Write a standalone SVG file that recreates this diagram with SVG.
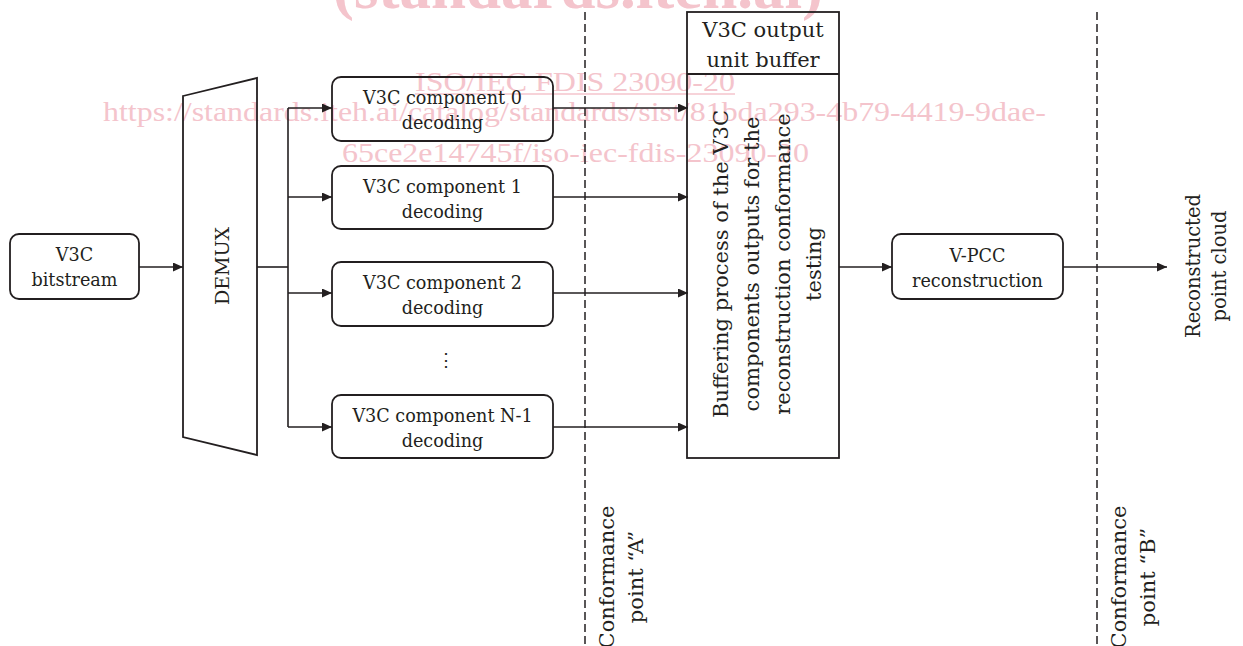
<svg xmlns="http://www.w3.org/2000/svg" width="1243" height="646" viewBox="0 0 1243 646">
<style>
.wm{font-family:"Liberation Serif",serif;fill:#f4c4cc}
.box{fill:none;stroke:#231f20;stroke-width:1.8}
.t{font-family:"DejaVu Serif","Liberation Serif",serif;fill:#231f20;text-anchor:middle}
.s{font-size:17.6px}
.l{font-size:21px}
.c{fill:none;stroke:#231f20;stroke-width:1.6}
.d{fill:none;stroke:#231f20;stroke-width:1.5;stroke-dasharray:8 4}
</style>
<defs>
<marker id="ah" markerUnits="userSpaceOnUse" markerWidth="11" markerHeight="10" refX="10" refY="4.5" orient="auto">
<path d="M0,0 L10,4.5 L0,9 z" fill="#231f20"/>
</marker>
</defs>
<g id="watermark">
<text class="wm" x="333" y="8" font-size="62" font-weight="bold" textLength="490" lengthAdjust="spacingAndGlyphs">(standards.iteh.ai)</text>
<text class="wm" x="415" y="91" font-size="28" textLength="320" lengthAdjust="spacingAndGlyphs">ISO/IEC FDIS 23090-20</text>
<line x1="415" y1="94" x2="735" y2="94" stroke="#f4c4cc" stroke-width="1.5"/>
<text class="wm" x="103" y="121" font-size="28" textLength="943" lengthAdjust="spacingAndGlyphs">https://standards.iteh.ai/catalog/standards/sist/81bda293-4b79-4419-9dae-</text>
<text class="wm" x="342" y="162" font-size="28" textLength="467" lengthAdjust="spacingAndGlyphs">65ce2e14745f/iso-iec-fdis-23090-20</text>
</g>
<g id="conformance-lines">
<line class="d" x1="585" y1="12" x2="585" y2="646"/>
<line class="d" x1="1097" y1="12" x2="1097" y2="646"/>
</g>
<g id="connectors">
<path class="c" d="M139,267 H183" marker-end="url(#ah)"/>
<path class="c" d="M257,267 H288"/>
<path class="c" d="M288,108 V427"/>
<path class="c" d="M288,108 H332" marker-end="url(#ah)"/>
<path class="c" d="M288,197 H332" marker-end="url(#ah)"/>
<path class="c" d="M288,293 H332" marker-end="url(#ah)"/>
<path class="c" d="M288,427 H332" marker-end="url(#ah)"/>
<path class="c" d="M553,108 H688" marker-end="url(#ah)"/>
<path class="c" d="M553,197 H688" marker-end="url(#ah)"/>
<path class="c" d="M553,293 H688" marker-end="url(#ah)"/>
<path class="c" d="M553,427 H688" marker-end="url(#ah)"/>
<path class="c" d="M839,267 H892" marker-end="url(#ah)"/>
<path class="c" d="M1063,267 H1167" marker-end="url(#ah)"/>
</g>
<g id="bitstream">
<rect class="box" x="10" y="234" width="129" height="65" rx="9"/>
<text class="t s" x="74.5" y="261">V3C</text>
<text class="t s" x="74.5" y="286">bitstream</text>
</g>
<g id="demux">
<polygon class="box" points="183,96 257,78 257,455 183,437"/>
<text class="t" font-size="19" transform="translate(229,266) rotate(-90)" x="0" y="0">DEMUX</text>
</g>
<g id="comp0">
<rect class="box" x="332" y="77" width="221" height="64" rx="9"/>
<text class="t s" x="442.5" y="104">V3C component 0</text>
<text class="t s" x="442.5" y="129">decoding</text>
</g>
<g id="comp1">
<rect class="box" x="332" y="166" width="221" height="63" rx="9"/>
<text class="t s" x="442.5" y="193">V3C component 1</text>
<text class="t s" x="442.5" y="218">decoding</text>
</g>
<g id="comp2">
<rect class="box" x="332" y="262" width="221" height="64" rx="9"/>
<text class="t s" x="442.5" y="289">V3C component 2</text>
<text class="t s" x="442.5" y="314">decoding</text>
</g>
<g id="ellipsis">
<text class="t" font-size="18" x="446" y="366">⋮</text>
</g>
<g id="compN">
<rect class="box" x="332" y="395" width="221" height="63" rx="9"/>
<text class="t s" x="442.5" y="422">V3C component N-1</text>
<text class="t s" x="442.5" y="447">decoding</text>
</g>
<g id="buffer">
<rect class="box" x="687" y="12" width="152" height="446"/>
<line class="box" x1="687" y1="74" x2="839" y2="74"/>
<text class="t l" x="763" y="37">V3C output</text>
<text class="t l" x="763" y="67">unit buffer</text>
<g class="t l" transform="translate(728,264) rotate(-90)">
<text x="0" y="0">Buffering process of the V3C</text>
<text x="0" y="31">components outputs for the</text>
<text x="0" y="62">reconstruction conformance</text>
<text x="0" y="93">testing</text>
</g>
</g>
<g id="vpcc">
<rect class="box" x="892" y="234" width="171" height="65" rx="9"/>
<text class="t s" x="977.5" y="262">V-PCC</text>
<text class="t s" x="977.5" y="287">reconstruction</text>
</g>
<g id="output">
<g class="t" font-size="19.5" transform="translate(1200,266) rotate(-90)">
<text x="0" y="0">Reconstructed</text>
<text x="0" y="26">point cloud</text>
</g>
</g>
<g id="labelA">
<g class="t l" transform="translate(614,577) rotate(-90)">
<text x="0" y="0">Conformance</text>
<text x="0" y="29">point “A”</text>
</g>
</g>
<g id="labelB">
<g class="t l" transform="translate(1126,577) rotate(-90)">
<text x="0" y="0">Conformance</text>
<text x="0" y="29">point “B”</text>
</g>
</g>
</svg>
